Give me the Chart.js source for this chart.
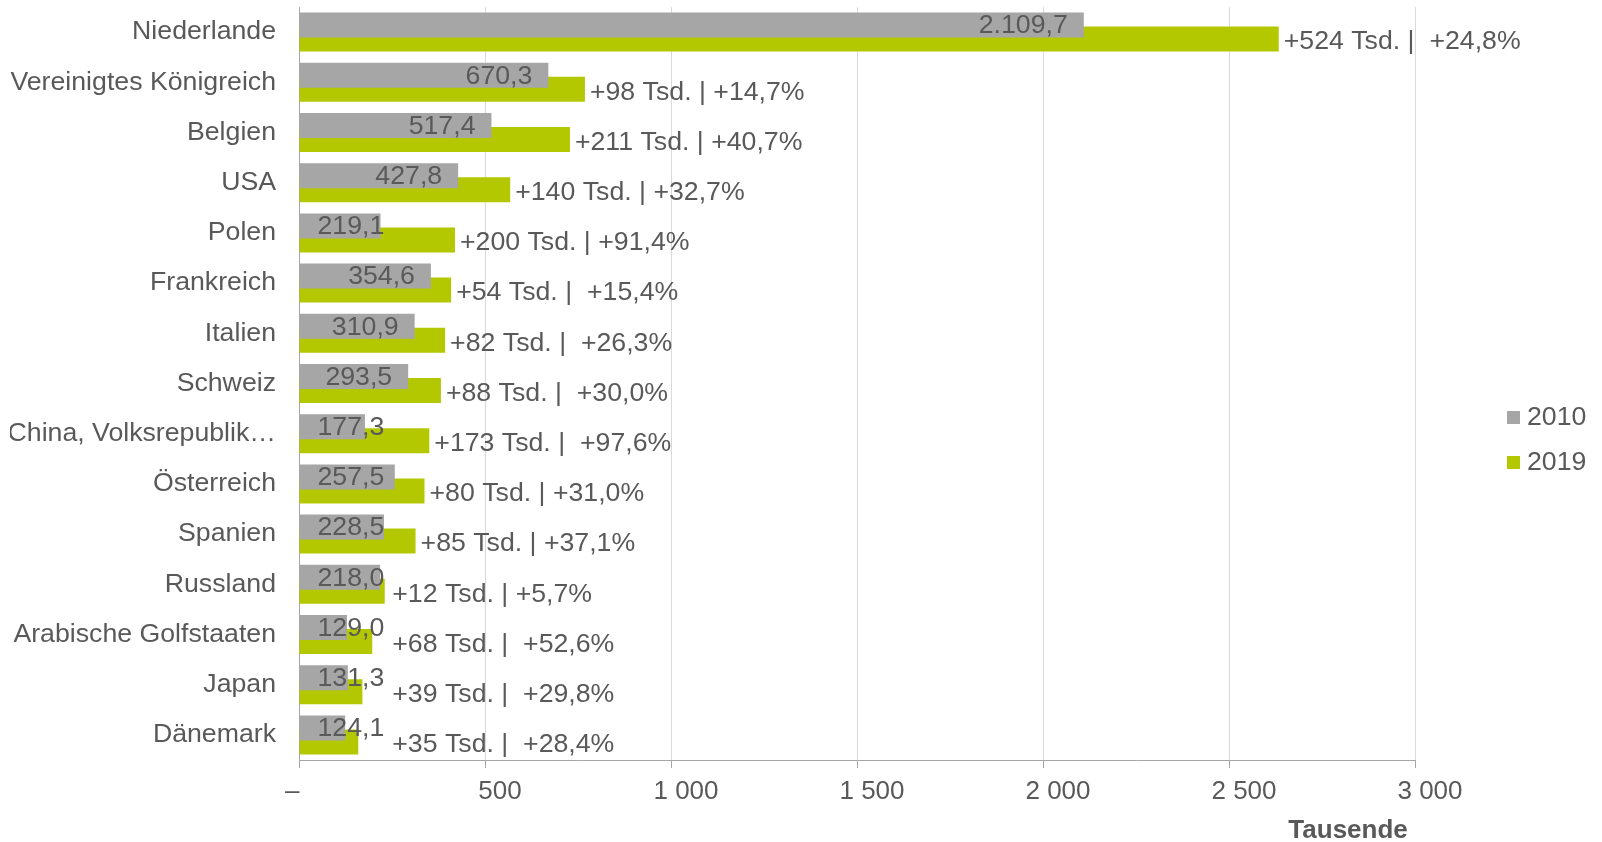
<!DOCTYPE html>
<html>
<head>
<meta charset="utf-8">
<script src="https://cdn.jsdelivr.net/npm/chart.js@4/dist/chart.umd.min.js"></script>
<style>
  body { margin: 0; background: #fff; }
  #wrap { width: 1602px; height: 842px; }
</style>
</head>
<body>
<div id="wrap"><canvas id="chart" width="1602" height="842"></canvas></div>
<script>
var countries = ['Niederlande', 'Vereinigtes Königreich', 'Belgien', 'USA', 'Polen', 'Frankreich', 'Italien',
  'Schweiz', 'China, Volksrepublik…', 'Österreich', 'Spanien', 'Russland', 'Arabische Golfstaaten', 'Japan', 'Dänemark'];
var years = ['2010', '2019'];
var values2010 = [2109.7, 670.3, 517.4, 427.8, 219.1, 354.6, 310.9, 293.5, 177.3, 257.5, 228.5, 218.0, 129.0, 131.3, 124.1];
var values2019 = [2633.7, 768.6, 728.3, 567.7, 419.3, 409.0, 392.8, 381.5, 350.3, 337.4, 313.3, 230.4, 196.9, 170.4, 159.3];
var changeLabels = ['+524 Tsd. |  +24,8%', '+98 Tsd. | +14,7%', '+211 Tsd. | +40,7%', '+140 Tsd. | +32,7%',
  '+200 Tsd. | +91,4%', '+54 Tsd. |  +15,4%', '+82 Tsd. |  +26,3%', '+88 Tsd. |  +30,0%', '+173 Tsd. |  +97,6%',
  '+80 Tsd. | +31,0%', '+85 Tsd. | +37,1%', '+12 Tsd. | +5,7%', '+68 Tsd. |  +52,6%', '+39 Tsd. |  +29,8%',
  '+35 Tsd. |  +28,4%'];
var xTickLabels = ['–', '500', '1 000', '1 500', '2 000', '2 500', '3 000'];

var textColor = '#595959';
var colors = ['#A6A6A6', '#B3C800'];
var fontFamily = '"Liberation Sans", Arial, sans-serif';

function fmtDe(v) {
  var parts = v.toFixed(1).split('.');
  var intPart = parts[0].replace(/\B(?=(\d{3})+(?!\d))/g, '.');
  return intPart + ',' + parts[1];
}

// labels on bars + legend
var labelPlugin = {
  id: 'barLabels',
  afterDatasetsDraw: function(chart) {
    var ctx = chart.ctx;
    ctx.save();
    ctx.font = '26.7px ' + fontFamily;
    ctx.fillStyle = textColor;
    ctx.textBaseline = 'middle';

    var grayRight = [];
    var meta0 = chart.getDatasetMeta(0);
    meta0.data.forEach(function(bar, i) {
      var txt = fmtDe(values2010[i]);
      var w = ctx.measureText(txt).width;
      var right = Math.max(bar.x - 16, bar.base + 18 + w);
      grayRight[i] = right;
      ctx.textAlign = 'right';
      ctx.fillText(txt, right, bar.y + 1);
    });

    var meta1 = chart.getDatasetMeta(1);
    meta1.data.forEach(function(bar, i) {
      ctx.textAlign = 'left';
      ctx.fillText(changeLabels[i], Math.max(bar.x + 5, grayRight[i] + 8), bar.y + 3);
    });

    // legend
    var lx = chart.chartArea.right + 92;
    var ly = [418, 463];
    years.forEach(function(y, i) {
      ctx.fillStyle = colors[i];
      ctx.fillRect(lx, ly[i] - 7, 13, 13);
      ctx.fillStyle = textColor;
      ctx.textAlign = 'left';
      ctx.fillText(y, lx + 20, ly[i]);
    });
    ctx.restore();
  }
};

var ct = document.getElementById('chart').getContext('2d');
var chart = new Chart(ct, {
  type: 'bar',
  data: {
    labels: countries,
    datasets: [{
      label: years[0],
      data: values2010,
      backgroundColor: colors[0],
      order: 0,
      categoryPercentage: 0.558,
      barPercentage: 1.786
    }, {
      label: years[1],
      data: values2019,
      backgroundColor: colors[1],
      order: 1,
      categoryPercentage: 0.558,
      barPercentage: 1.786
    }]
  },
  options: {
    indexAxis: 'y',
    responsive: false,
    animation: false,
    devicePixelRatio: 1,
    layout: { padding: { left: 10, right: 187, top: 7, bottom: -7 } },
    plugins: {
      legend: { display: false },
      tooltip: { enabled: false }
    },
    scales: {
      x: {
        min: 0,
        max: 3000,
        ticks: {
          stepSize: 500,
          padding: 8,
          labelOffset: 15,
          color: textColor,
          font: { family: fontFamily, size: 26 },
          callback: function(v, idx) {
            // dash for zero sits left of the axis
            return idx === 0 ? xTickLabels[0] + '\u00a0\u00a0\u00a0\u00a0\u00a0\u00a0' : xTickLabels[idx];
          }
        },
        grid: { color: '#D9D9D9', tickColor: '#A6A6A6', tickLength: 8 },
        border: { color: '#A6A6A6', width: 1 },
        title: {
          display: true,
          text: 'Tausende\u00a0',
          align: 'end',
          color: textColor,
          font: { family: fontFamily, size: 26, weight: 'bold', lineHeight: 1 },
          padding: { top: 2.8, bottom: 5 }
        }
      },
      y: {
        grid: { display: false, drawTicks: false },
        border: { color: '#A6A6A6', width: 1 },
        ticks: {
          padding: 23,
          color: textColor,
          font: { family: fontFamily, size: 26.7 }
        },
        afterFit: function(scale) {
          scale.width = 289;
          scale.paddingTop = 0;
          scale.paddingBottom = 0;
        }
      }
    }
  },
  plugins: [labelPlugin]
});
</script>
</body>
</html>
